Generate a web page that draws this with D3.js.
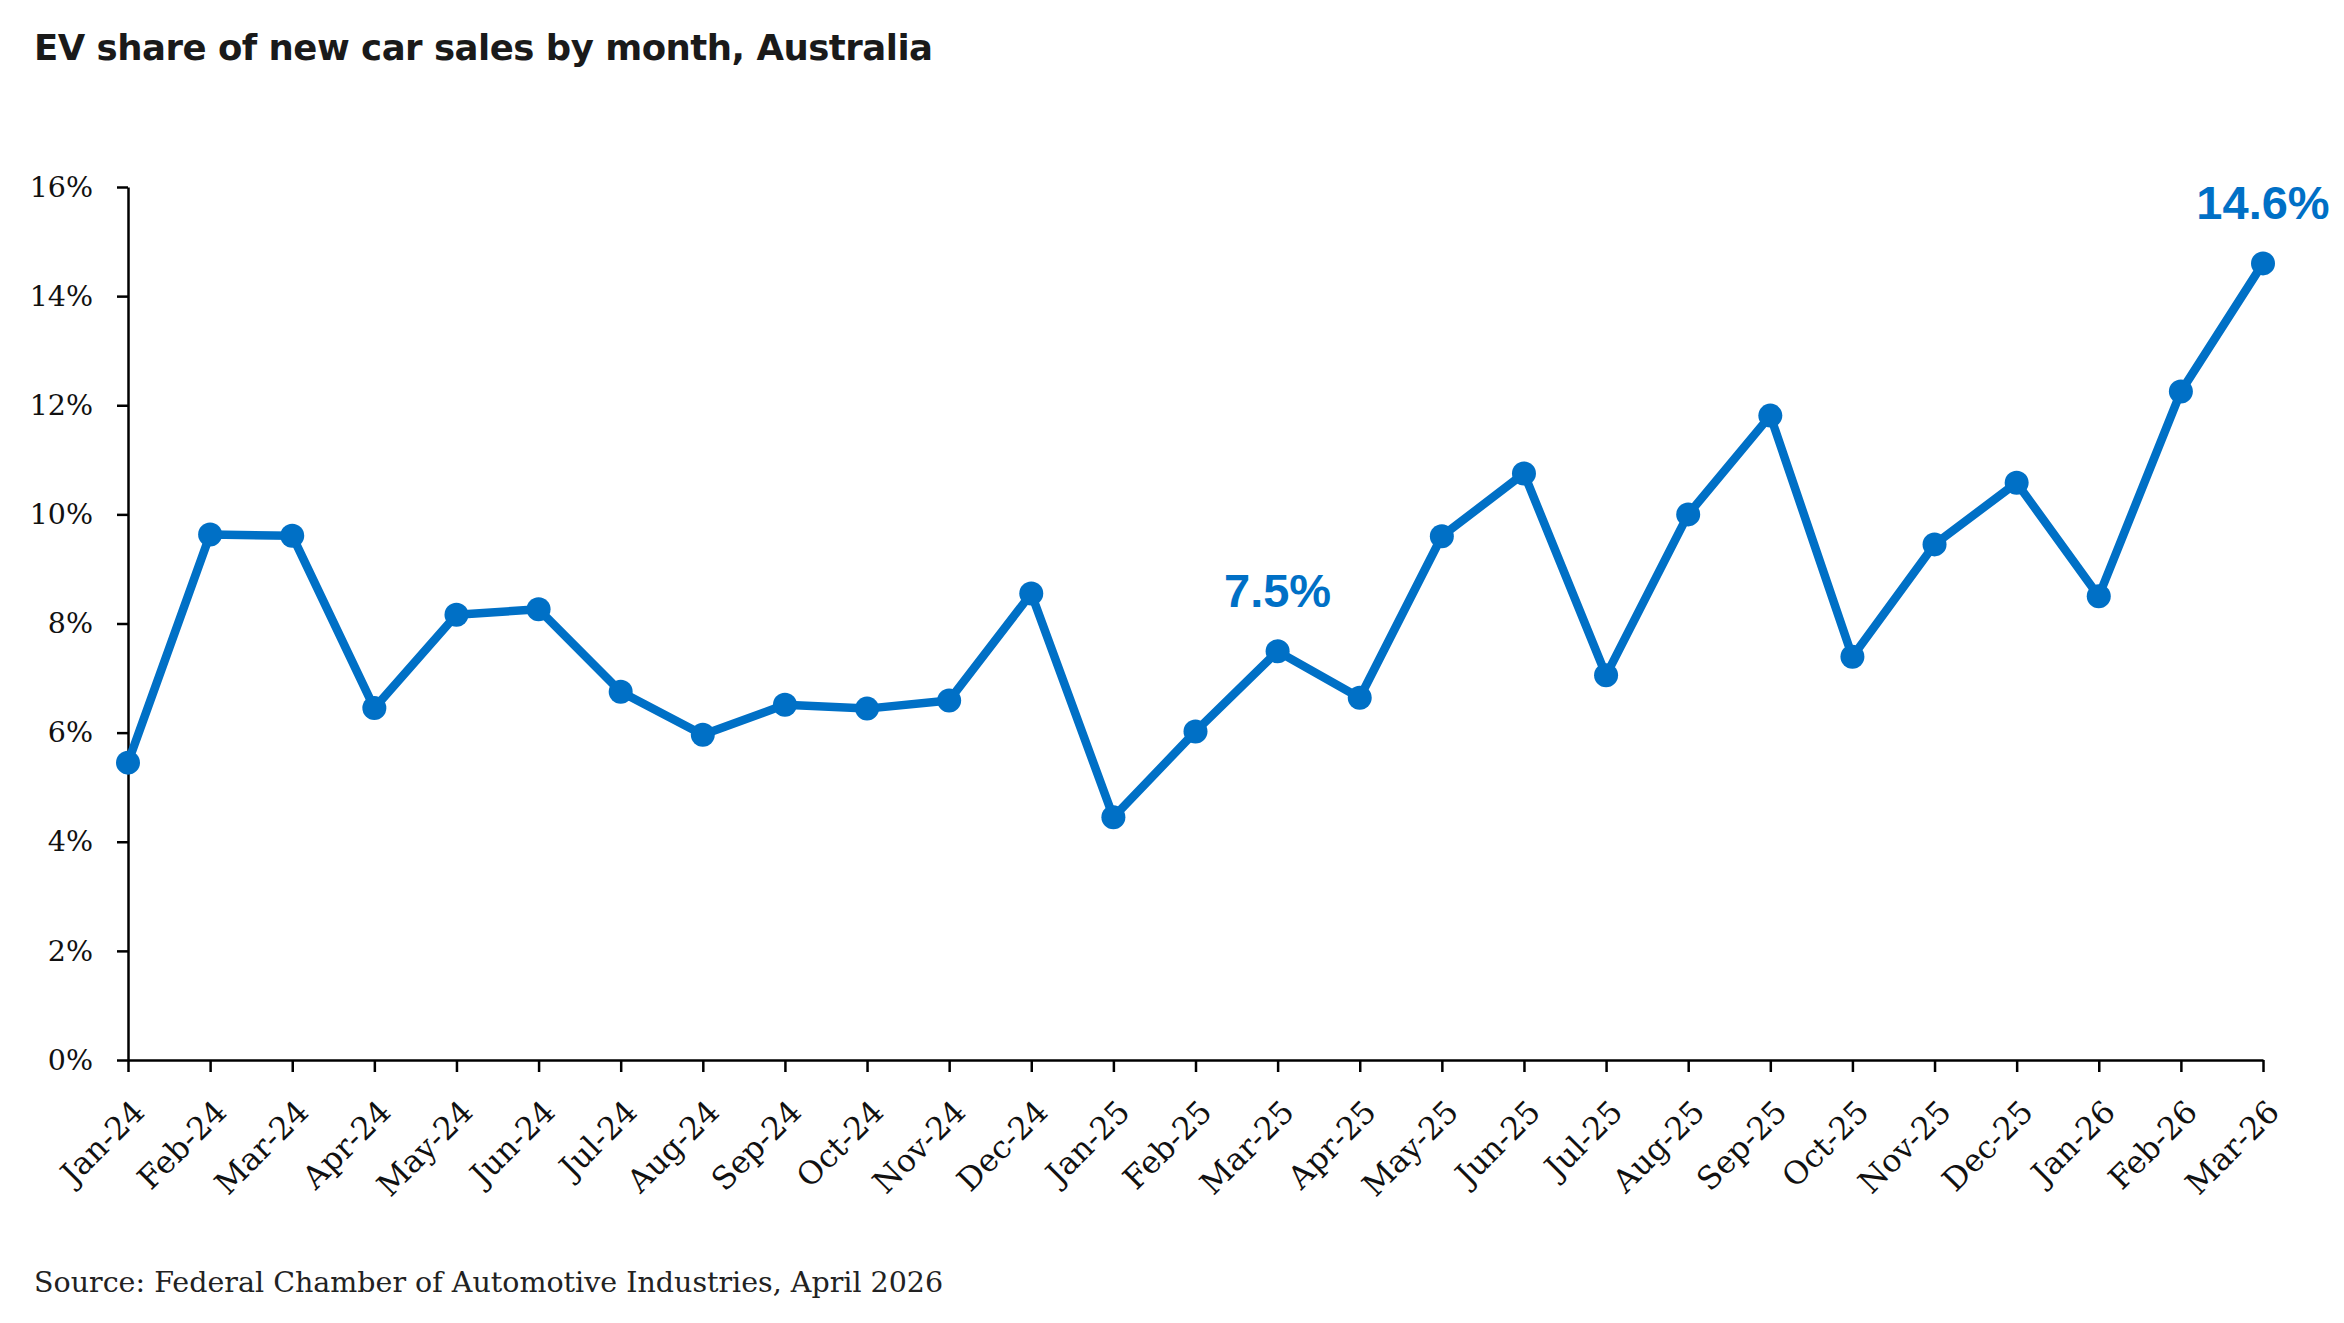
<!DOCTYPE html>
<html>
<head>
<meta charset="utf-8">
<script src="https://cdn.jsdelivr.net/npm/d3@7"></script>
<style>
body{margin:0;background:#fff;}
</style>
</head>
<body>
<svg id="chart" width="2344" height="1323"></svg>
<script>
var months=["Jan-24","Feb-24","Mar-24","Apr-24","May-24","Jun-24","Jul-24","Aug-24","Sep-24","Oct-24","Nov-24","Dec-24",
"Jan-25","Feb-25","Mar-25","Apr-25","May-25","Jun-25","Jul-25","Aug-25","Sep-25","Oct-25","Nov-25","Dec-25",
"Jan-26","Feb-26","Mar-26"]
var evShare=[5.45,9.63,9.61,6.45,8.16,8.26,6.75,5.96,6.51,6.44,6.59,8.55,
4.45,6.02,7.49,6.64,9.6,10.75,7.05,10.0,11.81,7.39,9.45,10.58,
8.5,12.25,14.6]
var yTicks=[0,2,4,6,8,10,12,14,16]
var callouts=["Mar-25","Mar-26"]

var svg=d3.select("#chart")
var blue="#0070c6"
var serif="'DejaVu Serif', serif"

var x=d3.scalePoint().domain(months).range([128,2263])
var y=d3.scaleLinear().domain([0,16]).range([1060,187])

var data=months.map(function(m,i){return {month:m,value:evShare[i]}})

//title
svg.append("text")
  .attr("x",34).attr("y",60)
  .style("font-family","'DejaVu Sans',sans-serif")
  .style("font-weight","bold")
  .style("font-size","35.5px")
  .style("letter-spacing","-0.5px")
  .style("fill","#1a1a1a")
  .text("EV share of new car sales by month, Australia")

//axes
var yAxis=svg.append("g").attr("transform","translate(128,0)")
  .call(d3.axisLeft(y).tickValues(yTicks).tickSize(11).tickSizeOuter(0).tickPadding(24)
    .tickFormat(function(d){return d+"%"}))
yAxis.selectAll("text").style("font-family",serif).style("font-size","28.5px").style("fill","#111")

var xAxis=svg.append("g").attr("transform","translate(0,1060)")
  .call(d3.axisBottom(x).tickSize(12).tickSizeOuter(0))
xAxis.selectAll("text")
  .attr("transform","translate(10,46) rotate(-45)")
  .attr("text-anchor","end")
  .attr("dy","0.35em")
  .attr("y",0).attr("x",0)
  .style("font-family",serif).style("font-size","31.5px").style("fill","#111")

svg.selectAll(".domain, .tick line").style("stroke","#000").style("stroke-width",2.5)

//line + dots
var line=d3.line().x(function(d){return x(d.month)}).y(function(d){return y(d.value)})
svg.append("path").datum(data)
  .attr("d",line)
  .style("fill","none").style("stroke",blue).style("stroke-width",8.5)
  .style("stroke-linejoin","round")

svg.selectAll(".dot").data(data).enter()
  .append("circle").attr("class","dot")
  .attr("cx",function(d){return x(d.month)})
  .attr("cy",function(d){return y(d.value)})
  .attr("r",12)
  .style("fill",blue)

//value callouts
svg.selectAll(".callout").data(data.filter(function(d){return callouts.indexOf(d.month)>=0})).enter()
  .append("text").attr("class","callout")
  .attr("x",function(d){return x(d.month)})
  .attr("y",function(d){return y(d.value)-44})
  .attr("text-anchor","middle")
  .style("font-family","'Liberation Sans',Arial,sans-serif")
  .style("font-weight","bold")
  .style("font-size","47px")
  .style("fill",blue)
  .text(function(d){return d.value.toFixed(1)+"%"})

//source
svg.append("text")
  .attr("x",34).attr("y",1292)
  .style("font-family",serif).style("font-size","28.5px").style("fill","#222")
  .text("Source: Federal Chamber of Automotive Industries, April 2026")
</script>
</body>
</html>
